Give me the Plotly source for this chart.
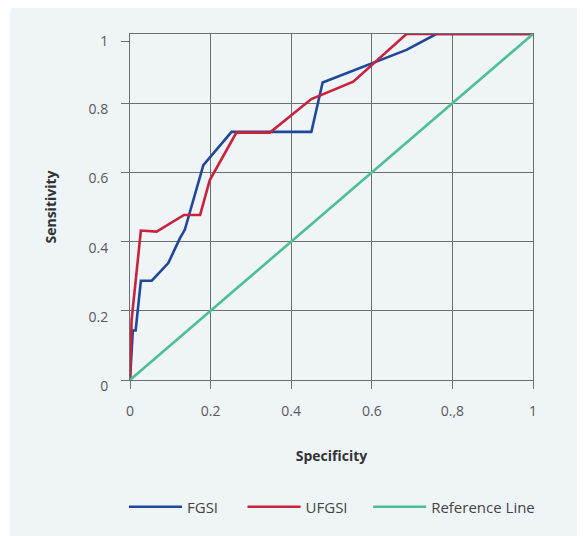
import plotly.graph_objects as go

# ---- data ----
fgsi_x = [0, 0.007, 0.014, 0.027, 0.054, 0.095, 0.124, 0.136, 0.182, 0.252, 0.450, 0.478, 0.686, 0.760, 1.0]
fgsi_y = [0, 0.143, 0.143, 0.287, 0.287, 0.338, 0.41, 0.434, 0.621, 0.717, 0.717, 0.860, 0.954, 1.0, 1.0]

ufgsi_x = [0, 0.004, 0.027, 0.066, 0.134, 0.174, 0.198, 0.264, 0.347, 0.450, 0.554, 0.686, 1.0]
ufgsi_y = [0, 0.174, 0.432, 0.429, 0.477, 0.477, 0.578, 0.715, 0.715, 0.812, 0.862, 1.0, 1.0]

ref_x = [0, 1]
ref_y = [0, 1]

series_names = ["FGSI", "UFGSI", "Reference Line"]

x_tickvals = [0, 0.2, 0.4, 0.6, 0.8, 1]
x_ticktext = ["0", "0.2", "0.4", "0.6", "0.,8", "1"]
y_tickvals = [0, 0.2, 0.4, 0.6, 0.8]
y_ticktext = ["0", "0.2", "0.4", "0.6", "0.8"]
y_top_tickval = [0.979]
y_top_ticktext = ["1"]

# ---- style ----
OFF = 8  # page body margin
W, H = 585 - OFF, 536 - OFF
ML, MT = 130 - OFF, 34 - OFF
PW, PH = 403, 346
MR, MB = W - ML - PW, H - MT - PH
PANEL = "#eff4f7"
GRID = "#6e6e6e"
TICKC = "#595959"
FONT = "Open Sans"
NB = "\u00a0"
pads = [NB * 5, NB * 4, ""]  # legend spacing


def px_to_paper(px, py):
    # px, py are page pixel positions
    return (px - OFF - ML) / PW, (MT + PH - (py - OFF)) / PH


fig = go.Figure()
fig.add_trace(go.Scatter(x=fgsi_x, y=fgsi_y, mode="lines", name=series_names[0] + pads[0],
                         line=dict(color="#1f479a", width=2.6), cliponaxis=False))
fig.add_trace(go.Scatter(x=ufgsi_x, y=ufgsi_y, mode="lines", name=series_names[1] + pads[1],
                         line=dict(color="#c9223d", width=2.6), cliponaxis=False))
fig.add_trace(go.Scatter(x=ref_x, y=ref_y, mode="lines", name=series_names[2] + pads[2],
                         line=dict(color="#4cbf95", width=2.6), cliponaxis=False))
# helper invisible trace on y2 to carry the "1" tick
fig.add_trace(go.Scatter(x=[None], y=[None], yaxis="y2", showlegend=False, hoverinfo="skip"))

# rounded panel background
x0, y0 = px_to_paper(10, 7)
x1, y1 = px_to_paper(620, 580)
rx, ry = 6 / PW, 6 / PH
path = (f"M{x0},{y1} L{x0},{y0 - ry} Q{x0},{y0} {x0 + rx},{y0} "
        f"L{x1},{y0} L{x1},{y1} Z")

lx, ly = px_to_paper(124, 507)

fig.update_layout(
    width=W, height=H,
    margin=dict(l=ML, r=MR, t=MT, b=MB),
    paper_bgcolor="white",
    plot_bgcolor=PANEL,
    font=dict(family=FONT, size=14, color=TICKC),
    shapes=[dict(type="path", path=path, xref="paper", yref="paper",
                 fillcolor=PANEL, line=dict(width=0), layer="below")],
    xaxis=dict(range=[0, 1], tickvals=x_tickvals, ticktext=x_ticktext,
               showgrid=True, gridcolor=GRID, gridwidth=1,
               showline=True, linecolor=GRID, linewidth=1, mirror=True,
               ticks="outside", ticklen=8, tickcolor=GRID, zeroline=False,
               ticklabelstandoff=10, layer="below traces",
               tickfont=dict(size=14, color=TICKC),
               title=dict(text="<b>Specificity</b>", standoff=32,
                          font=dict(size=14, color="#333333"))),
    yaxis=dict(range=[0, 1], tickvals=y_tickvals, ticktext=y_ticktext,
               showgrid=True, gridcolor=GRID, gridwidth=1,
               showline=True, linecolor=GRID, linewidth=1, mirror=True,
               ticks="outside", ticklen=8, tickcolor=GRID, zeroline=False,
               ticklabelstandoff=10, ticklabelshift=6, layer="below traces",
               tickfont=dict(size=14, color=TICKC),
               title=dict(text="<b>Sensitivity</b>", standoff=28,
                          font=dict(size=14, color="#333333"))),
    yaxis2=dict(range=[0, 1], overlaying="y", side="left",
                tickvals=y_top_tickval, ticktext=y_top_ticktext,
                showgrid=False, showline=False, zeroline=False,
                ticks="outside", ticklen=8, tickcolor=GRID,
                ticklabelstandoff=10, layer="below traces",
                tickfont=dict(size=14, color=TICKC)),
    legend=dict(orientation="h", x=lx, xanchor="left",
                y=ly, yanchor="middle", itemwidth=53,
                bgcolor="rgba(0,0,0,0)", font=dict(size=15, color="#444444")),
    showlegend=True,
)

fig.write_html("out.html")
